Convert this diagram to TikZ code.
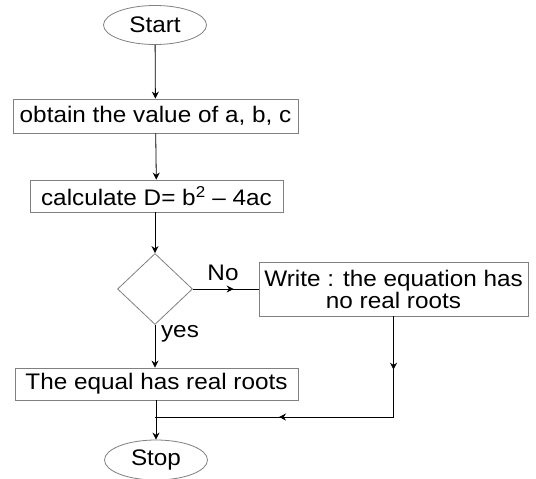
\documentclass[tikz,border=0pt]{standalone}
\usepackage{fontspec}
\setmainfont{Liberation Sans}[FakeStretch=1.08]
\usetikzlibrary{arrows.meta,shapes.geometric,decorations.markings}
\definecolor{BoxGray}{HTML}{808080}

\begin{document}
\begin{tikzpicture}[x=1pt, y=-1pt,
  box/.style={draw=BoxGray, line width=0.8pt, minimum width=#1, inner sep=0pt, align=center},
  term/.style={draw=BoxGray, line width=0.8pt, ellipse, minimum width=103pt, inner sep=0pt},
  decision/.style={draw=BoxGray, line width=0.8pt, diamond, minimum width=75pt, minimum height=71pt, inner sep=0pt},
  arr/.style={-{Stealth[length=7pt,width=7pt]}, line width=0.8pt},
  mid/.style={line width=0.8pt, postaction=decorate,
    decoration={markings, mark=at position #1 with {\arrow{Stealth[length=7pt,width=7pt]}}}},
  lbl/.style={inner sep=0pt}
]
\useasboundingbox (0,0) rectangle (536,479);
\fontsize{22.5}{20}\selectfont
\node[term, minimum height=39pt] (start) at (155,25) {Start};
\node[box=285pt, minimum height=34pt] (obtain) at (155.5,116) {obtain the value of a, b, c};
\node[box=253pt, minimum height=32pt] (calc) at (156.5,196) {calculate D= b\textsuperscript{2} – 4ac};
\node[decision] (dec) at (155,289) {};
\node[box=269pt, minimum height=54pt] (write) at (393.5,289) {Write : the equation has\\no real roots};
\node[box=283pt, minimum height=32pt] (equal) at (156.5,384) {The equal has real roots};
\node[term, minimum height=40pt] (stop) at (156,460) {Stop};
\node[lbl] (no) at (223,273) {No};
\node[lbl] (yes) at (180,334) {yes};
\coordinate (j1) at (write.south |- 0,417);
\coordinate (j2) at (155,417);
% main line
\draw[arr] (start) -- (obtain);
\draw[arr] (obtain) -- (calc);
\draw[arr] (calc.south -| dec.north) -- (dec);
\draw[mid=0.62] (dec) -- (write);
\draw[arr] (dec) -- (equal.north -| dec.south);
% return path
\draw[mid=0.53] (write) -- (j1);
\draw[mid=0.48] (j1) -- (j2);
\draw[arr] (equal.south -| stop.north) -- (stop);
\end{tikzpicture}
\end{document}
